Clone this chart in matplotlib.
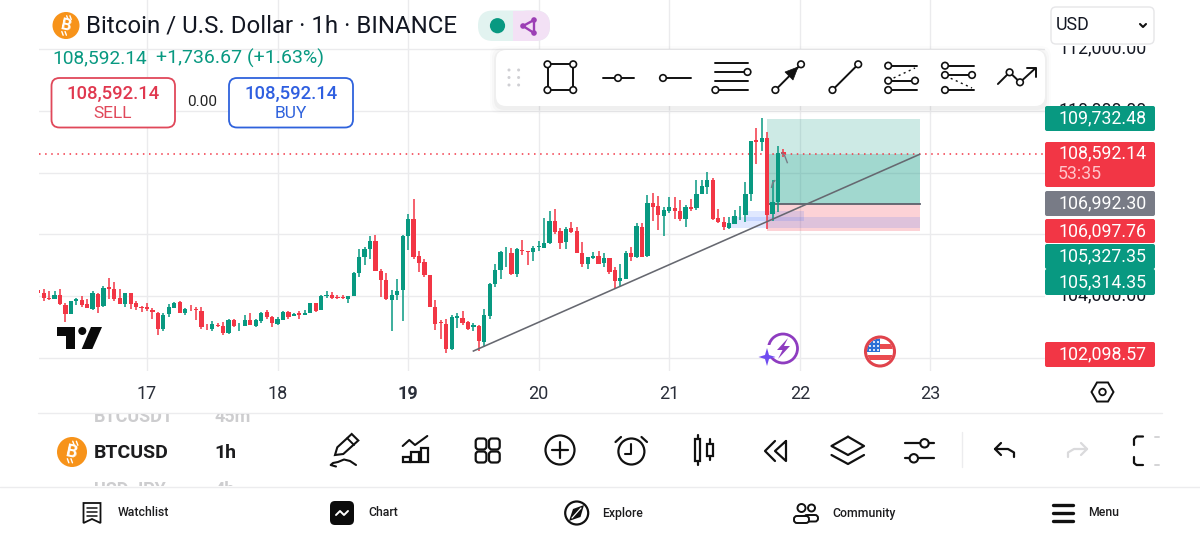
import numpy as np
import matplotlib
matplotlib.use('Agg')
import matplotlib.pyplot as plt
from matplotlib.patches import Circle, FancyBboxPatch, Polygon, Rectangle, RegularPolygon
from matplotlib.transforms import ScaledTranslation

plt.rcParams['font.family'] = ['Roboto', 'DejaVu Sans']

# hourly candles, first one is 16th 04:00
opens = [104195, 104086, 103946, 103914, 104032, 103697, 103427, 103849, 103870, 103741,
         103568, 104065, 103665, 104281, 104238, 103935, 103741, 104097, 103762, 103654,
         103632, 103546, 103459, 102919, 103416, 103611, 103795, 103438, 103589, 103568,
         103514, 103005, 102919, 103070, 103027, 102789, 103222, 103027, 103038, 103222,
         103038, 103200, 103481, 103330, 103092, 103222, 103492, 103351, 103438, 103384,
         103459, 103762, 103546, 104011, 104032, 103968, 103957, 103892, 104000, 104735,
         105276, 105535, 105794, 104822, 104519, 103870, 104022, 104195, 105946, 106486,
         105308, 105103, 104692, 103654, 103146, 103092, 102270, 103287, 103287, 103157,
         102984, 103027, 102508, 103351, 104378, 104843, 105416, 105405, 104714, 105503,
         105449, 105416, 105578, 105568, 105708, 106443, 106097, 105751, 106205, 106119,
         105405, 105038, 105232, 105297, 105059, 105232, 104843, 104497, 104562, 105384,
         105254, 106248, 105297, 107027, 106919, 106594, 106746, 106854, 106767, 106508,
         106897, 106843, 107319, 107535, 107751, 106541, 106411, 106195, 106346, 106649,
         106627, 107297, 109049, 108984, 109113, 106670, 107038, 108670]
closes = [104108, 103946, 103892, 104043, 103741, 103416, 103827, 103892, 103719, 103611,
          104108, 103654, 104259, 104216, 103914, 103741, 104086, 103741, 103654, 103611,
          103589, 103470, 102919, 103395, 103632, 103773, 103459, 103578, 103568, 103546,
          102984, 102984, 103092, 103027, 102789, 103232, 103027, 103038, 103222, 103070,
          103222, 103438, 103330, 103114, 103243, 103481, 103330, 103427, 103373, 103459,
          103762, 103503, 104000, 104032, 103935, 103935, 103935, 103989, 104757, 105254,
          105513, 105784, 104822, 104519, 103892, 104032, 104151, 105957, 106486, 105276,
          105081, 104670, 103632, 103092, 103114, 102270, 103330, 103351, 103114, 102941,
          103070, 102530, 103373, 104400, 104832, 105416, 105438, 104714, 105535, 105459,
          105438, 105546, 105622, 105730, 106443, 106076, 105730, 106184, 106086, 105405,
          105038, 105254, 105297, 105049, 105232, 104778, 104497, 104584, 105384, 105254,
          106270, 105276, 107027, 106897, 106616, 106789, 106875, 106767, 106508, 106897,
          106832, 107319, 107557, 107751, 106508, 106389, 106238, 106368, 106584, 106670,
          107319, 109016, 109005, 109113, 106616, 107049, 108638, 108592]
highs = [104249, 104238, 104173, 104151, 104216, 103784, 103849, 103935, 104000, 103892,
         104173, 104086, 104324, 104584, 104465, 104216, 104108, 104108, 103849, 103676,
         103762, 103611, 103481, 103459, 103741, 103805, 103838, 103600, 103719, 103654,
         103632, 103092, 103200, 103135, 103157, 103254, 103265, 103135, 103395, 103459,
         103265, 103492, 103546, 103351, 103308, 103524, 103524, 103438, 103514, 103546,
         103784, 103784, 104043, 104173, 104130, 104032, 104043, 104000, 104789, 105535,
         105578, 105946, 105968, 104886, 104735, 104195, 104541, 105989, 106659, 107135,
         105449, 105189, 104692, 103859, 103222, 103265, 103395, 103438, 103524, 103178,
         103135, 103049, 103589, 104432, 105038, 105470, 105600, 105557, 105557, 105816,
         105459, 105622, 105795, 106530, 106746, 106811, 106205, 106227, 106400, 106227,
         105762, 105276, 105427, 105459, 105384, 105232, 104930, 105038, 105449, 105578,
         106378, 106357, 107275, 107330, 107243, 106897, 107221, 107221, 107113, 106940,
         107157, 107751, 107751, 108011, 107838, 106832, 106562, 106562, 106778, 106930,
         107708, 109016, 109459, 109784, 109319, 107751, 108876, 108768]
lows = [104086, 103849, 103870, 103892, 103719, 103146, 103416, 103697, 103632, 103600,
        103546, 103438, 103654, 103914, 103849, 103741, 103632, 103589, 103546, 103481,
        103503, 103243, 102735, 102876, 103308, 103600, 103438, 103395, 103524, 103222,
        102941, 102897, 102876, 102984, 102724, 102778, 103005, 102854, 103027, 103049,
        103005, 103135, 103265, 103005, 103049, 103222, 103243, 103351, 103243, 103373,
        103459, 103481, 103535, 103924, 103914, 103892, 103892, 103784, 103989, 104605,
        105016, 105211, 104822, 103978, 103870, 102854, 103870, 103178, 105492, 105211,
        104768, 104605, 103632, 102897, 102616, 102162, 102260, 102962, 103070, 102897,
        102854, 102227, 102357, 103265, 104303, 104541, 104951, 104670, 104627, 105319,
        104995, 105146, 105449, 105557, 105686, 106011, 105514, 105514, 106054, 105405,
        104951, 104886, 105211, 105038, 104951, 104714, 104216, 104324, 104541, 105146,
        105243, 105254, 105254, 106443, 106140, 105946, 106681, 106508, 106443, 106248,
        106767, 106778, 107297, 107297, 106476, 106368, 106130, 106173, 106324, 106454,
        106400, 107081, 108270, 108703, 106162, 106432, 106714, 108508]
hours = np.arange(len(opens)) - 20

day_ticks = [0, 24, 48, 72, 96, 120, 144]
day_labels = ['17', '18', '19', '20', '21', '22', '23']
price_ticks = [102000, 104000, 106000, 108000, 110000, 112000]
# the other price labels sit fully behind the tags
price_labels = ['', '104,000.00', '', '', '110,000.00', '112,000.00']

last_price = 108592.14
tp_price = 109732.48
entry_price = 106992.30
stop_price = 106097.76
pos_start, pos_end = 113.9, 142.1
trend_hours = [60, 142]
trend_prices = [102216, 108592]
zone_a = (110.1, 120.8, 106432, 106756)
zone_b = (107.4, 142.1, 106205, 106562)

GREEN = '#089981'
RED = '#f23645'
INK = '#131722'
GRID = '#ebebed'

fig = plt.figure(figsize=(12, 5.4), dpi=100, facecolor='white')

# price chart
ax = fig.add_axes([39 / 1200, (540 - 371) / 540, (1045 - 39) / 1200, 371 / 540])
ax.set_xlim(-19.85, 165.07)
ax.set_ylim(101568, 113599)
for s in ax.spines.values():
    s.set_visible(False)
ax.grid(True, color=GRID, lw=1)
ax.set_axisbelow(True)
ax.set_xticks(day_ticks)
ax.set_xticklabels(day_labels, fontsize=13, color='#2a2e39')
ax.get_xticklabels()[2].set_fontweight('bold')
ax.yaxis.tick_right()
ax.set_yticks(price_ticks)
ax.set_yticklabels(price_labels, fontsize=12.8, color=INK)
ax.tick_params(axis='x', length=0, pad=10)
ax.tick_params(axis='y', length=0, pad=9.5)
for t in ax.get_yticklabels():
    t.set_transform(t.get_transform() + ScaledTranslation(0, 3 / 100, fig.dpi_scale_trans))

# long position box
w = pos_end - pos_start
ax.add_patch(Rectangle((pos_start, entry_price), w, tp_price - entry_price, fc=GREEN, alpha=0.2, lw=0, zorder=1))
ax.add_patch(Rectangle((pos_start, entry_price), w, last_price - entry_price, fc=GREEN, alpha=0.22, lw=0, zorder=1))
ax.add_patch(Rectangle((pos_start, stop_price), w, entry_price - stop_price, fc=RED, alpha=0.22, lw=0, zorder=1))
ax.plot([pos_start, pos_end], [entry_price, entry_price], color='#5d606b', lw=1.3, zorder=2)
for z in (zone_a, zone_b):
    ax.add_patch(Rectangle((z[0], z[2]), z[1] - z[0], z[3] - z[2], fc='#2962ff', alpha=0.14, lw=0, zorder=1.5))

# candles
up = np.array(closes) >= np.array(opens)
colors = [GREEN if u else RED for u in up]
ax.vlines(hours, lows, highs, colors=colors, lw=1.1, zorder=3)
ax.bar(hours, np.abs(np.array(closes) - np.array(opens)), bottom=np.minimum(opens, closes),
       width=0.78, color=colors, lw=0, zorder=3)

ax.axhline(last_price, color=RED, lw=1.1, ls=(0, (1, 3)), zorder=2.5)
ax.plot(trend_hours, trend_prices, color='#666870', lw=1.15, zorder=4)
ax.plot([116.7, 117.2, 117.7], [108640, 108560, 108326], color='#787b86', lw=1, zorder=4)
ax.plot([114.8, 115.0, 115.4], [107525, 107660, 107740], color='#787b86', lw=1, zorder=4)

# everything else sits on a pixel layer
ui = fig.add_axes([0, 0, 1, 1])
ui.set_xlim(0, 1200)
ui.set_ylim(540, 0)
ui.axis('off')
ui.patch.set_alpha(0)


def line(xs, ys, c='#111111', lw=1.4, z=12, **kw):
    ui.plot(xs, ys, color=c, lw=lw, solid_capstyle='round', solid_joinstyle='round', zorder=z, **kw)


def ring(x, y, r=3.3, lw=1.2, z=13, ec='#111111', fc='white'):
    ui.add_patch(Circle((x, y), r, fc=fc, ec=ec, lw=lw, zorder=z))


def rbox(x0, y0, x1, y1, r=4, fc='white', ec='none', lw=1, z=9, **kw):
    p = FancyBboxPatch((x0 + r, y0 + r), x1 - x0 - 2 * r, y1 - y0 - 2 * r,
                       boxstyle='round,pad=%f,rounding_size=%f' % (r, r),
                       fc=fc, ec=ec, lw=lw, zorder=z, **kw)
    ui.add_patch(p)
    return p


def label(x, y, s, size=12, c=INK, ha='left', weight='normal', z=14, **kw):
    return ui.text(x, y, s, fontsize=size, color=c, ha=ha, va='center', fontweight=weight, zorder=z, **kw)


def btc_logo(x, y, r, size):
    # bitcoin coin icon, B with the two little strokes
    ui.add_patch(Circle((x, y), r, fc='#f7931a', ec='none', zorder=11))
    ui.text(x, y, 'B', fontsize=size, color='white', ha='center', va='center', rotation=-12,
            fontweight='bold', zorder=12)
    h = r * 0.72
    for off in (-0.08, 0.16):
        line([x + off * r + 0.18 * h, x + off * r + 0.32 * h], [y - h, y - h * 0.62], 'white', 1, 12)
        line([x + off * r - 0.32 * h, x + off * r - 0.18 * h], [y + h * 0.62, y + h], 'white', 1, 12)


# header
btc_logo(66, 25.5, 13.5, 12)
label(85.5, 26, 'Bitcoin / U.S. Dollar \u00b7 1h \u00b7 BINANCE', 17.25)
label(52, 58.5, '108,592.14', 13.8, GREEN)
label(156, 58.5, '+1,736.67 (+1.63%)', 14, GREEN)
rbox(51.5, 78, 175, 127.5, r=8, ec='#e0485a', lw=1.3)
label(113, 93.5, '108,592.14', 13.3, '#e0384f', 'center', 'medium')
label(113, 113.5, 'SELL', 12.5, '#e0485a', 'center')
label(202, 102, '0.00', 11, '#222222', 'center')
rbox(229, 78, 353, 127.5, r=8, ec='#2f62dc', lw=1.3)
label(291, 93.5, '108,592.14', 13.3, '#2f5fe0', 'center', 'medium')
label(291, 113.5, 'BUY', 12.5, '#2f62dc', 'center')

# status chip
rbox(478, 10.5, 550, 41, r=15, fc='#e2f3f0', z=8)
rbox(513, 10.5, 550, 41, r=15, fc='#f3e1f5', z=8.5)
ui.add_patch(Rectangle((513, 10.5), 15, 30.5, fc='#f3e1f5', lw=0, zorder=8.6))
ui.add_patch(Circle((497.5, 25.7), 7.6, fc=GREEN, ec='none', zorder=9))
line([534, 523, 534, 534], [20, 26, 33, 20], '#9c3fb5', 1.7)
for px, py in [(534, 20), (523, 26), (534, 33)]:
    ui.add_patch(Circle((px, py), 2.8, fc='#9c3fb5', ec='none', zorder=13))

# USD select
ui.add_patch(Rectangle((1046, 0), 112, 46, fc='white', lw=0, zorder=7))
rbox(1051, 7, 1154, 44, r=5, ec='#e6e6e8', lw=1)
label(1056, 25.5, 'USD', 12.8, '#131722')
line([1140, 1143, 1146], [24, 27, 24], lw=1.5)

# drawing toolbar
for grow, a in [(6, 0.012), (4, 0.02), (2, 0.03)]:
    rbox(496 - grow, 50 - grow + 2, 1045 + grow, 106 + grow + 2, r=10, fc='black', z=8, alpha=a)
rbox(496, 50, 1045, 106, r=10)
for dx in (509, 518.6):
    for dy in (70, 77.5, 85):
        ui.add_patch(Circle((dx, dy), 1.5, fc='#cfcfd3', ec='none', zorder=11))
line([547.5, 573.2, 573.2, 547.5, 547.5], [64.3, 64.3, 90, 90, 64.3])
for cx, cy in [(547.5, 64.3), (573.2, 64.3), (547.5, 90), (573.2, 90)]:
    ring(cx, cy)
line([602.5, 634], [78, 78])
ring(618, 78)
line([663, 690.7], [78, 78])
ring(663, 78)
for ly in (63, 72, 81, 90):
    line([715.4, 747.5], [ly, ly])
ring(747.5, 72)
ring(715.4, 90)
line([775.4, 801], [90, 64.3])
ui.add_patch(Polygon([[798, 67], [785, 72], [793, 80]], fc='#111111', ec='#111111', lw=0.5, zorder=12.5))
ring(775.4, 90)
ring(801, 64.3)
line([832.5, 858.2], [90, 64.3])
ring(832.5, 90)
ring(858.2, 64.3)
line([888.2, 916.8], [65.7, 65.7])
line([888.2, 915], [80.7, 80.7])
line([888.2, 916.8], [90, 90])
line([893.6, 915], [78, 68], lw=1, ls=(0, (1.5, 2.5)))
for cx, cy in [(888.2, 65.7), (888.2, 80.7), (915, 80.7), (888.2, 90)]:
    ring(cx, cy)
line([945, 974], [65.7, 65.7])
line([945, 972], [75, 75])
line([945, 974], [90, 90])
line([950.7, 972], [78.3, 88], lw=1, ls=(0, (1.5, 2.5)))
for cx, cy in [(945, 65.7), (945, 75), (972, 75), (945, 90)]:
    ring(cx, cy)
line([997.9, 1009.6, 1020, 1035.7], [84, 72.3, 82.3, 68])
line([1027, 1035.7, 1035.7], [68, 68, 77])
ring(1009.6, 72.3)
ring(1020, 82.3)

# price tags over the axis
tags = [(106, 131, '109,732.48', GREEN),
        (191, 216, '106,992.30', '#787b86'),
        (219, 243, '106,097.76', RED),
        (244, 269, '105,327.35', GREEN),
        (269, 295, '105,314.35', GREEN),
        (342, 367, '102,098.57', RED)]
for y0, y1, txt, col in tags:
    rbox(1045, y0, 1155, y1, r=2, fc=col, z=8)
    label(1058, (y0 + y1) / 2, txt, 12.8, 'white')
rbox(1045, 142, 1155, 187, r=2, fc=RED, z=8)
label(1058, 153, '108,592.14', 12.8, 'white')
label(1058, 174, '53:35', 12.8, '#ffc4ca')

# TradingView mark
ui.add_patch(Polygon([[57, 327], [75, 327], [75, 349], [66, 349], [66, 336], [57, 336]], fc='#0a0a0a', lw=0, zorder=9))
ui.add_patch(Circle((82.3, 331), 4, fc='#0a0a0a', lw=0, zorder=9))
ui.add_patch(Polygon([[91, 327], [102, 327], [92.3, 349], [81.7, 349]], fc='#0a0a0a', lw=0, zorder=9))

# event badges
ring(783, 348.5, 14.5, 2, 9, '#8e3cc0')
ui.add_patch(Rectangle((766, 345), 9, 13, fc='white', lw=0, zorder=9.2))
ui.add_patch(Polygon([[788, 338], [777, 350], [782.5, 350], [778, 359], [790, 346], [784, 346]], fc='#8e3cc0', lw=0, zorder=10))
ui.add_patch(Polygon([[767, 348], [769, 355], [775.5, 357], [769, 359], [767, 366], [765, 359], [758.5, 357], [765, 355]],
                     fc='#6f4cf0', lw=0, zorder=10))
flag_clip = Circle((880, 351.5), 13, transform=ui.transData)
for k in range(5):
    s = ui.add_patch(Rectangle((866, 338 + k * 5.6), 28, 5.6, fc='#ea4b50' if k % 2 else 'white', lw=0, zorder=9))
    s.set_clip_path(flag_clip)
canton = ui.add_patch(Rectangle((866, 338), 14, 14, fc='#2a6fd6', lw=0, zorder=9.5))
canton.set_clip_path(flag_clip)
for sx in (870, 874, 878):
    for sy in (342, 346, 350):
        ui.add_patch(Circle((sx, sy), 1, fc='white', lw=0, zorder=9.6))
ring(880, 351.5, 14.5, 2.2, 10, '#e0434c', 'none')

# hexagon settings
ui.add_patch(RegularPolygon((1102.5, 392), 6, radius=11, orientation=np.pi / 6, fc='white', ec='#111111', lw=1.4, zorder=10))
ring(1102.5, 392, 3.3, 1.3)

# bottom panels
line([38, 1162], [413, 413], '#ececee', 1, 6)
line([0, 1200], [486.5, 486.5], '#ececee', 1, 6)
clip = Rectangle((0, 414), 1200, 72, transform=ui.transData)
for gx, gy, gs in [(94, 417, 'BTCUSDT'), (214, 417, '45m'), (94, 490, 'USD JPY'), (214, 490, '4h')]:
    t = label(gx, gy, gs, 13, '#cdcdcf', weight='bold')
    t.set_clip_on(True)
    t.set_clip_path(clip)
btc_logo(72, 452, 15, 13)
label(94, 452.5, 'BTCUSD', 14, '#1c1c1e', weight='bold')
label(214, 452.5, '1h', 14, '#1c1c1e', weight='bold')

# pencil
ui.add_patch(Polygon([[335, 455], [337.3, 447.3], [351.7, 434], [358.3, 440.5], [343.3, 454]], fc='white', ec='#111111', lw=1.5, zorder=10))
line([347.3, 354], [438.3, 445])
line([356, 350, 344, 338, 333, 330.7, 336], [465, 461, 459.5, 462, 463, 465, 466.5], lw=1.5)
# indicators
for x0, x1, y0 in [(402.7, 410, 456.7), (410.7, 419.3, 452.3), (420.7, 428.3, 448.3)]:
    ui.add_patch(Rectangle((x0, y0), x1 - x0, 462.3 - y0, fc='white', ec='#111111', lw=1.6, zorder=10))
line([402.7, 409.3, 415, 427.3], [446, 440, 445, 436], lw=1.5)
# layout grid
for gx0 in (475.7, 489):
    for gy0 in (438.5, 451.5):
        rbox(gx0, gy0, gx0 + 10.7, gy0 + 11, r=3, ec='#111111', lw=1.6, z=10)
# add
ring(560, 450, 14.5, 1.6, 10)
line([552, 568], [450, 450], lw=1.6)
line([560, 560], [442, 458], lw=1.6)
# alarm
ring(631.4, 451.5, 13, 1.6, 10)
line([631.4, 631.4, 625], [444, 454, 454], lw=1.5)
line([615.5, 621], [442, 437], lw=1.6)
line([647, 641.5], [442, 437], lw=1.6)
# candle type
ui.add_patch(Rectangle((695, 439), 5.4, 22, fc='white', ec='#111111', lw=1.6, zorder=10))
line([697.7, 697.7], [435, 439], lw=1.6)
line([697.7, 697.7], [461, 464.5], lw=1.6)
ui.add_patch(Rectangle((707.3, 444), 5.4, 12, fc='white', ec='#111111', lw=1.6, zorder=10))
line([710, 710], [439, 444], lw=1.6)
line([710, 710], [456, 460], lw=1.6)
# replay
line([775, 765, 775], [441, 451, 461], lw=1.6)
line([786, 775, 786, 786], [441, 451, 461, 441], lw=1.6)
# layers
line([848, 864, 848, 831.5, 848], [436.7, 446, 455, 446, 436.7], lw=1.6)
line([831.5, 848, 864], [455, 464, 455], lw=1.6)
# sliders
line([904.6, 934], [443.3, 443.3], lw=1.6)
ring(924.5, 443.3, 4.2, 1.5)
line([904.6, 934], [458.3, 458.3], lw=1.6)
ring(913.8, 458.3, 4.2, 1.5)
line([962.4, 962.4], [432, 467], '#ececee', 1)
# undo / redo
line([1001, 995, 1001], [443, 449, 455], lw=1.6)
line([995, 1008, 1014, 1014], [449, 449, 452.5, 457], lw=1.6)
line([1081, 1087, 1081], [443, 449, 455], '#dadadc', 1.6)
line([1087, 1074, 1068, 1068], [449, 449, 452.5, 457], '#dadadc', 1.6)
# fullscreen
line([1143, 1136.5, 1134, 1134], [436.5, 436.5, 439, 445], lw=1.6)
line([1134, 1134, 1136.5, 1143], [457, 463, 465, 465], lw=1.6)
line([1155, 1159], [436.5, 436.5], '#d4d4d6', 1.4)
line([1155, 1159], [465, 465], '#d4d4d6', 1.4)

# nav bar
ui.add_patch(Polygon([[83.5, 503], [100.5, 503], [100.5, 523], [92, 519], [83.5, 523]], fc='white', ec='#111111', lw=1.3, zorder=10))
for ly in (508, 512, 516):
    line([87, 97], [ly, ly], lw=1.1)
label(118, 513, 'Watchlist', 8.8, '#1c1c1e', weight='medium')
rbox(330, 501, 354, 525, r=5, fc='#0c0c0c', z=10)
line([336, 340, 344, 348], [515, 511, 515, 511], 'white', 1.4)
label(368, 513, 'Chart', 8.8, '#1c1c1e', weight='medium')
ring(576.7, 513, 11.5, 1.6, 10)
ui.add_patch(Polygon([[584, 505], [580.5, 517], [569, 521], [573, 509]], fc='#111111', lw=0, zorder=12))
line([572, 581], [518, 508], 'white', 0.9, 13)
label(602, 513, 'Explore', 8.8, '#1c1c1e', weight='medium')
ring(801.5, 508, 4, 1.4)
ring(811.5, 508, 3.5, 1.4)
rbox(804, 515, 818, 521.5, r=3, ec='#111111', lw=1.4, z=10)
rbox(794, 516, 809, 523, r=3, ec='#111111', lw=1.4, z=10.5)
label(832, 513, 'Community', 8.8, '#1c1c1e', weight='medium')
for ly in (505, 513, 521):
    line([1052.5, 1072.5], [ly, ly], '#111111', 2.4)
label(1088, 513, 'Menu', 8.8, '#1c1c1e', weight='medium')

fig.savefig('out.png', dpi=100)
